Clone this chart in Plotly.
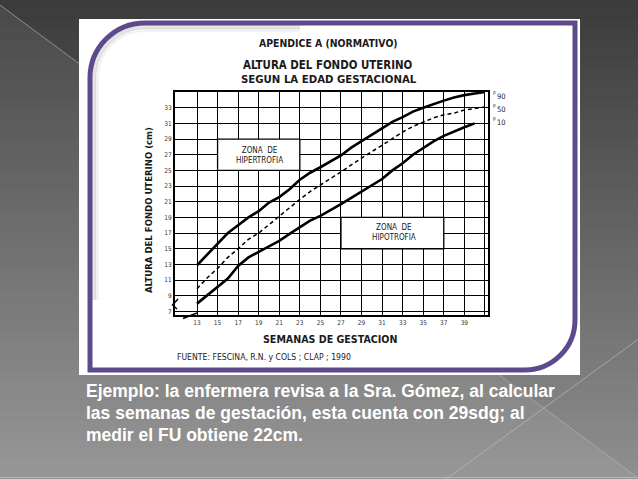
import plotly.graph_objects as go

# ---------------- data ----------------
weeks = list(range(13, 42))
p90 = [12.9, 14.3, 15.7, 17.0, 18.0, 19.0, 19.8, 20.9, 21.6, 22.6, 23.8, 24.7, 25.4, 26.1,
       26.9, 27.9, 28.7, 29.6, 30.4, 31.2, 31.8, 32.5, 33.0, 33.5, 33.9, 34.3, 34.6, 34.8, 35.0]
p50 = [9.9, 11.3, 12.5, 13.9, 15.0, 16.2, 17.0, 18.1, 19.1, 20.3, 21.3, 22.3, 23.1, 24.0,
       24.8, 25.7, 26.6, 27.4, 28.2, 29.1, 29.9, 30.6, 31.2, 31.7, 32.1, 32.3, 32.7, 32.9, 33.1]
weeks_p10 = list(range(13, 41))
p10 = [8.0, 9.1, 10.2, 11.2, 12.8, 13.9, 14.6, 15.3, 16.0, 16.9, 17.8, 18.6, 19.2, 19.9,
       20.7, 21.5, 22.3, 23.0, 23.9, 25.0, 25.9, 27.0, 27.9, 28.7, 29.4, 30.0, 30.5, 31.0]

x_tickvals = list(range(13, 40, 2))
x_ticktext = [str(v) for v in x_tickvals]
y_tickvals = list(range(7, 34, 2))
y_ticktext = [str(v) for v in y_tickvals]

title_top = "APENDICE A (NORMATIVO)"
title_1 = "ALTURA DEL FONDO UTERINO"
title_2 = "SEGUN LA EDAD GESTACIONAL"
x_title = "SEMANAS DE GESTACION"
y_title = "ALTURA DEL FONDO UTERINO (cm)"
source = "FUENTE: FESCINA, R.N. y COLS ; CLAP ; 1990"
zone_hi = "ZONA  DE<br>HIPERTROFIA"
zone_lo = "ZONA  DE<br>HIPOTROFIA"
pct_labels = ["90", "50", "10"]
caption = ["Ejemplo: la enfermera revisa a la Sra. Gómez, al calcular",
           "las semanas de gestación, esta cuenta con 29sdg; al",
           "medir el FU obtiene 22cm."]

# ---------------- layout helpers (pixel -> paper) ----------------
W, H = 638, 479
def px(x):
    return x / W
def py(y):
    return 1 - y / H

NARROW = "Liberation Sans Narrow, Arial Narrow, DejaVu Sans Condensed, sans-serif"
SANS = "Liberation Sans, Arial, Helvetica, sans-serif"

fig = go.Figure()
fig.add_trace(go.Scatter(x=weeks, y=p90, mode="lines", line=dict(color="black", width=2.6),
                         hoverinfo="skip", showlegend=False))
fig.add_trace(go.Scatter(x=weeks, y=p50, mode="lines", line=dict(color="black", width=1.5, dash="4px,3px"),
                         hoverinfo="skip", showlegend=False))
fig.add_trace(go.Scatter(x=weeks_p10, y=p10, mode="lines", line=dict(color="black", width=2.6),
                         hoverinfo="skip", showlegend=False))

shapes = []
# background vertical gradient
N = 48
top = (60, 60, 60)
bot = (143, 143, 143)
for i in range(N):
    t = i / (N - 1)
    c = tuple(int(top[k] + (bot[k] - top[k]) * t) for k in range(3))
    shapes.append(dict(type="rect", xref="paper", yref="paper", x0=0, x1=1,
                       y0=py(H * (i + 1) / N + 0.5), y1=py(H * i / N),
                       fillcolor="rgb(%d,%d,%d)" % c, line=dict(width=0), layer="below"))
# lighter lower-left triangle
shapes.append(dict(type="path", xref="paper", yref="paper",
                   path="M 0 %f L 1 %f L 0 %f Z" % (py(5), py(479), py(479)),
                   fillcolor="rgba(255,255,255,0.07)", line=dict(width=0), layer="below"))
# diagonal lines
shapes.append(dict(type="line", xref="paper", yref="paper", x0=px(0), y0=py(5), x1=px(638), y1=py(478),
                   line=dict(color="rgba(200,200,200,0.55)", width=1), layer="below"))
shapes.append(dict(type="line", xref="paper", yref="paper", x0=px(640), y0=py(338), x1=px(445), y1=py(480),
                   line=dict(color="rgba(200,200,200,0.55)", width=1), layer="below"))
shapes.append(dict(type="line", xref="paper", yref="paper", x0=0, y0=py(477.5), x1=1, y1=py(477.5),
                   line=dict(color="rgba(190,190,190,0.8)", width=1), layer="below"))
# white picture
shapes.append(dict(type="rect", xref="paper", yref="paper", x0=px(79), x1=px(580), y0=py(375), y1=py(19),
                   fillcolor="white", line=dict(width=0), layer="below"))
def P(x, y):
    return "%f %f" % (px(x), py(y))
# soft inner shadow of the frame
for off, alpha in [(4, 0.10), (7, 0.05)]:
    sh = ("M " + P(90 + off, 300) + " L " + P(90 + off, 78) +
          " C " + P(90 + off, 47.6 + off * 0.6) + " " + P(114.6 + off * 0.6, 23 + off) + " " + P(145, 23 + off) +
          " L " + P(300, 23 + off))
    shapes.append(dict(type="path", xref="paper", yref="paper", path=sh,
                       line=dict(color="rgba(0,0,0,%.2f)" % alpha, width=4), layer="below"))
# purple frame
frame = ("M " + P(90, 370) + " L " + P(90, 78) +
         " C " + P(90, 47.6) + " " + P(114.6, 23) + " " + P(145, 23) +
         " L " + P(575, 23) + " L " + P(575, 320) +
         " C " + P(575, 347.6) + " " + P(552.6, 370) + " " + P(525, 370) + " Z")
shapes.append(dict(type="path", xref="paper", yref="paper", path=frame,
                   fillcolor="rgba(0,0,0,0)", line=dict(color="#5c4a8c", width=5), layer="below"))
# zone boxes (cover grid)
shapes.append(dict(type="rect", xref="x", yref="y", x0=15, x1=23, y0=25, y1=29,
                   fillcolor="white", line=dict(color="black", width=1.3), layer="between"))
shapes.append(dict(type="rect", xref="x", yref="y", x0=27, x1=37, y0=15, y1=19,
                   fillcolor="white", line=dict(color="black", width=1.3), layer="between"))
# axis break marks
shapes.append(dict(type="path", xref="paper", yref="paper",
                   path="M " + P(178, 299) + " L " + P(172.5, 305) + " L " + P(177, 309),
                   line=dict(color="black", width=1.5), layer="above"))
shapes.append(dict(type="line", xref="paper", yref="paper", x0=px(183), y0=py(318.5), x1=px(197), y1=py(313),
                   line=dict(color="black", width=1.5), layer="above"))

annotations = []
def txt(x, y, s, size, family=NARROW, color="#1a1a1a", xanchor="center", **kw):
    annotations.append(dict(x=px(x), y=py(y), xref="paper", yref="paper", text=s, showarrow=False,
                            font=dict(size=size, family=family, color=color), xanchor=xanchor,
                            yanchor="middle", **kw))

txt(328, 43, "<b>" + title_top + "</b>", 10.4)
txt(328, 65, "<b>" + title_1 + "</b>", 11.4)
txt(329, 79, "<b>" + title_2 + "</b>", 11.3)
txt(330, 339, "<b>" + x_title + "</b>", 10.6)
txt(175, 357, source, 8.6, xanchor="left")
txt(148, 210, "<b>" + y_title + "</b>", 9.5, textangle=-90)
txt(259, 155, zone_hi, 8)
txt(394, 232, zone_lo, 8)
for i, lab in enumerate(pct_labels):
    txt(491, 93 + 13 * i, "P", 5, xanchor="left")
    txt(494.5, 97 + 13 * i, lab, 7.5, xanchor="left")
for i, line in enumerate(caption):
    txt(84, 391 + 22 * i, "<b>" + line + "</b>", 17.5, family=SANS, color="white", xanchor="left")

fig.update_layout(
    width=W, height=H, margin=dict(l=0, r=0, t=0, b=0),
    paper_bgcolor="#505050", plot_bgcolor="rgba(0,0,0,0)",
    shapes=shapes, annotations=annotations, showlegend=False,
    xaxis=dict(domain=[px(175), px(488)], range=[10.86, 41.3], tickvals=x_tickvals, ticktext=x_ticktext,
               showgrid=True, gridcolor="black", gridwidth=1.3, zeroline=False,
               showline=True, linecolor="black", linewidth=2, mirror=True, ticks="",
               minor=dict(tickvals=[41], showgrid=True, gridcolor="black", gridwidth=1.3, ticks=""),
               tickfont=dict(size=6.5, family=NARROW, color="#333")),
    yaxis=dict(domain=[py(315), py(92)], range=[6.55, 35], tickvals=y_tickvals, ticktext=y_ticktext,
               showgrid=True, gridcolor="black", gridwidth=1.3, zeroline=False,
               showline=True, linecolor="black", linewidth=2, mirror=True, ticks="",
               tickfont=dict(size=6.5, family=NARROW, color="#333")),
)

fig.write_html("out.html", config={"displayModeBar": False},
               post_script="document.body.style.margin='0px';")
